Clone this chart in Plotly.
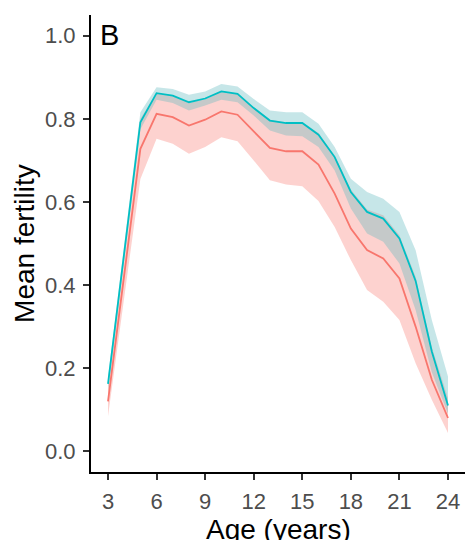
import plotly.graph_objects as go

ages = [3, 5, 6, 7, 8, 9, 10, 11, 12, 13, 14, 15, 16, 17, 18, 19, 20, 21, 22, 23, 24]

teal_mean = [0.162, 0.792, 0.862, 0.856, 0.840, 0.849, 0.866, 0.860, 0.826, 0.796, 0.790,
             0.790, 0.762, 0.708, 0.624, 0.576, 0.560, 0.512, 0.410, 0.240, 0.110]
teal_upper = [0.178, 0.816, 0.876, 0.872, 0.858, 0.866, 0.884, 0.878, 0.848, 0.820, 0.816,
              0.816, 0.788, 0.732, 0.656, 0.624, 0.608, 0.576, 0.484, 0.316, 0.180]
teal_lower = [0.148, 0.775, 0.846, 0.838, 0.820, 0.832, 0.846, 0.840, 0.808, 0.772, 0.760,
              0.758, 0.732, 0.676, 0.584, 0.524, 0.504, 0.452, 0.340, 0.190, 0.090]

red_mean = [0.120, 0.728, 0.812, 0.804, 0.784, 0.798, 0.818, 0.810, 0.770, 0.730, 0.722,
            0.722, 0.690, 0.620, 0.536, 0.484, 0.464, 0.416, 0.300, 0.172, 0.080]
red_upper = [0.158, 0.800, 0.862, 0.856, 0.838, 0.848, 0.866, 0.860, 0.828, 0.798, 0.792,
             0.792, 0.766, 0.712, 0.630, 0.582, 0.568, 0.520, 0.420, 0.250, 0.128]
red_lower = [0.084, 0.655, 0.752, 0.740, 0.716, 0.732, 0.756, 0.746, 0.700, 0.652, 0.642,
             0.638, 0.602, 0.540, 0.460, 0.388, 0.360, 0.316, 0.212, 0.124, 0.044]

x_ticks = [3, 6, 9, 12, 15, 18, 21, 24]
y_ticks = [0.0, 0.2, 0.4, 0.6, 0.8, 1.0]

x_title = "Age (years)"
y_title = "Mean fertility"
panel_tag = "B"

RED = "#F8766D"
TEAL = "#00BFC4"
RED_FILL = "rgba(248,118,109,0.33)"
TEAL_FILL = "rgba(101,187,193,0.37)"

fig = go.Figure()

# ribbons
fig.add_trace(go.Scatter(x=ages, y=red_lower, mode="lines", line=dict(width=0),
                         showlegend=False, hoverinfo="skip"))
fig.add_trace(go.Scatter(x=ages, y=red_upper, mode="lines", line=dict(width=0),
                         fill="tonexty", fillcolor=RED_FILL, showlegend=False, hoverinfo="skip"))
fig.add_trace(go.Scatter(x=ages, y=teal_lower, mode="lines", line=dict(width=0),
                         showlegend=False, hoverinfo="skip"))
fig.add_trace(go.Scatter(x=ages, y=teal_upper, mode="lines", line=dict(width=0),
                         fill="tonexty", fillcolor=TEAL_FILL, showlegend=False, hoverinfo="skip"))

# mean lines
fig.add_trace(go.Scatter(x=ages, y=red_mean, mode="lines", line=dict(color=RED, width=1.8),
                         showlegend=False))
fig.add_trace(go.Scatter(x=ages, y=teal_mean, mode="lines", line=dict(color=TEAL, width=1.8),
                         showlegend=False))

FONT = "Liberation Sans, Arial, Helvetica, sans-serif"

fig.update_layout(
    width=465, height=540,
    margin=dict(l=91, r=0, t=15, b=68, autoexpand=False),
    plot_bgcolor="white", paper_bgcolor="white",
    font=dict(family=FONT, color="#4D4D4D"),
    showlegend=False,
    xaxis=dict(
        range=[1.95, 25.05], tickvals=x_ticks, ticktext=[str(v) for v in x_ticks],
        showgrid=False, zeroline=False, showline=True, linecolor="black", linewidth=2,
        ticks="outside", ticklen=6, tickwidth=1.6, tickcolor="#333333",
        ticklabelstandoff=3, automargin=False,
        tickfont=dict(size=22, color="#4D4D4D", family=FONT),
    ),
    yaxis=dict(
        range=[-0.05, 1.05], tickvals=y_ticks, ticktext=[f"{v:.1f}" for v in y_ticks],
        showgrid=False, zeroline=False, showline=True, linecolor="black", linewidth=2,
        ticks="outside", ticklen=6, tickwidth=1.6, tickcolor="#333333",
        ticklabelstandoff=3, automargin=False,
        tickfont=dict(size=22, color="#4D4D4D", family=FONT),
    ),
    annotations=[
        dict(text=panel_tag, xref="paper", yref="paper", x=0.019, y=0.995,
             xanchor="left", yanchor="top", showarrow=False,
             font=dict(size=29, color="black", family=FONT)),
        dict(text=x_title, xref="paper", yref="paper", x=0.5, y=-0.126,
             xanchor="center", yanchor="middle", showarrow=False,
             font=dict(size=28, color="black", family=FONT)),
        dict(text=y_title, xref="paper", yref="paper", x=-0.178, y=0.5,
             xanchor="center", yanchor="middle", showarrow=False, textangle=-90,
             font=dict(size=28, color="black", family=FONT)),
    ],
)

fig.write_html("out.html", config={"displayModeBar": False},
               post_script="document.body.style.margin='0';document.body.style.overflow='hidden';")
